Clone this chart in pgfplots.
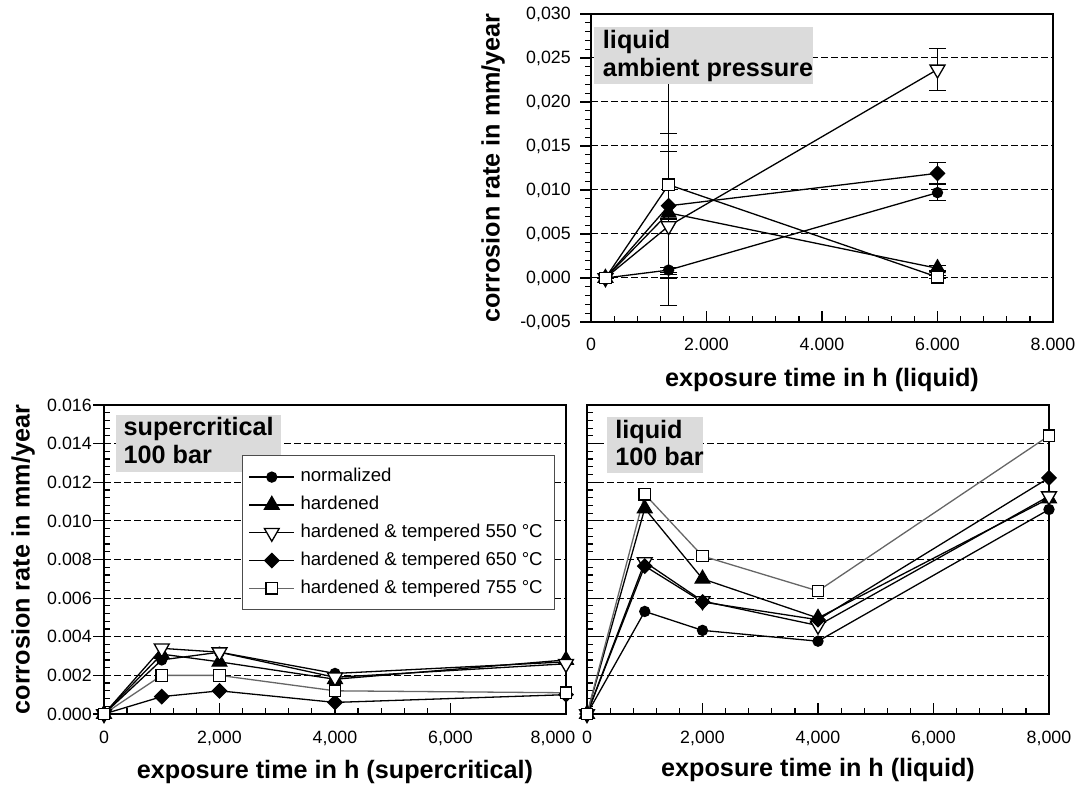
\documentclass[border=0pt]{standalone}
\usepackage{fontspec}
\setmainfont{Liberation Sans}
\usepackage{pgfplots}
\pgfplotsset{compat=1.18}
\newcommand\lbl{\fontsize{12.6bp}{14bp}\selectfont\bfseries}
\begin{document}
\begin{tikzpicture}
\useasboundingbox (0,0) rectangle (539bp,394bp);
\pgfplotsset{
  base/.style={
    scale only axis, width=231bp, height=154bp,
    anchor=south west,
    axis line style={line width=1bp},
    tick align=inside, tick pos=left,
    major tick length=5.3bp, minor tick length=2.8bp,
    every tick/.style={black, line width=0.6bp},
    scaled ticks=false,
    /pgf/number format/assume math mode=true,
    tick label style={font=\fontsize{8.9bp}{10bp}\selectfont},
    ymajorgrids,
    major grid style={black, line width=0.5bp, dash pattern=on 3.5bp off 1.5bp},
    xmin=0, xmax=8000, minor x tick num=4, minor y tick num=4,
    clip=false,
    every axis plot/.append style={line width=0.65bp},
  },
  s1/.style={black, mark=*, mark size=2.5bp, mark options={solid, fill=black}},
  s2/.style={black, mark=triangle*, mark size=4.2bp, mark options={solid, fill=black}},
  s3/.style={black, mark=triangle*, mark size=4.3bp, mark options={solid, fill=white, rotate=180}},
  s4/.style={black, mark=square*, mark size=2.5bp, mark options={solid, fill=black, rotate=45}},
  s5/.style={black!60, mark=square*, mark size=2.9bp, mark options={solid, fill=white, draw=black}},
  eb/.style={error bars/.cd, y dir=both, y explicit,
    error bar style={line width=0.6bp, black, solid},
    error mark options={rotate=90, mark size=4.2bp, line width=0.6bp, black}},
}
% ---------------- top: liquid, ambient pressure
\begin{axis}[base, at={(295.5bp,233bp)},
  ymin=-0.005, ymax=0.030,
  ytick={-0.005,0,0.005,0.01,0.015,0.02,0.025,0.03},
  xtick={0,2000,4000,6000,8000},
  /pgf/number format/use comma, /pgf/number format/1000 sep={.},
  yticklabel style={xshift=-6.6bp, /pgf/number format/fixed, /pgf/number format/fixed zerofill, /pgf/number format/precision=3, /pgf/number format/use comma},
  xticklabel style={yshift=-4.5bp},
  every major y tick/.append style={xshift=-5.3bp},
  every minor y tick/.append style={xshift=-2.8bp},
]
\addplot[s1, eb] table[x=x, y=y, y error=e] {
x y e
250 0 0
1344 0.0009 0.0003
6000 0.0097 0.0009
};
\addplot[s2, eb] table[x=x, y=y, y error=e] {
x y e
250 0 0
1344 0.0074 0.0070
6000 0.0011 0.0003
};
\addplot[s3, eb] table[x=x, y=y, y error=e] {
x y e
250 0 0
1344 0.0059 0.0008
6000 0.0237 0.0024
};
\addplot[s4, eb] table[x=x, y=y, y error=e] {
x y e
250 0 0
1344 0.0082 0.0082
6000 0.0119 0.0012
};
\addplot[s5, color=black, eb] table[x=x, y=y, y error=e] {
x y e
250 0 0
1344 0.0106 0.0137
6000 0.0001 0.0002
};
\end{axis}
% ---------------- bottom left: supercritical
\begin{axis}[base, at={(52bp,37bp)}, height=154.5bp,
  ymin=0, ymax=0.016,
  ytick={0,0.002,0.004,0.006,0.008,0.01,0.012,0.014,0.016},
  xtick={0,2000,4000,6000}, extra x ticks={8000},
  extra x tick style={xticklabel style={xshift=-6.5bp}},
  /pgf/number format/1000 sep={,},
  yticklabel style={xshift=-2.6bp, /pgf/number format/fixed, /pgf/number format/fixed zerofill, /pgf/number format/precision=3},
  xticklabel style={yshift=-5bp},
  every major y tick/.append style={xshift=-5.3bp},
  legend cell align=left,
  legend image code/.code={\draw[mark repeat=2, mark phase=2, #1] plot coordinates {(0bp,0bp) (11.25bp,0bp) (22.5bp,0bp)};},
  legend style={at={(0.2987,0.838)}, anchor=north west,
    draw=black!70, line width=0.65bp, fill=white,
    inner xsep=3bp, inner ysep=3.75bp, row sep=0bp,
    font=\fontsize{9.3bp}{10bp}\selectfont,
    nodes={inner sep=2.8bp, text height=6.5bp, text depth=1.8bp}},
]
\addplot[s1] coordinates {(0,0) (1000,0.0028) (2000,0.0032) (4000,0.0021) (8000,0.0027)};
\addplot[s2] coordinates {(0,0) (1000,0.0031) (2000,0.0027) (4000,0.0018) (8000,0.0028)};
\addplot[s3] coordinates {(0,0) (1000,0.0034) (2000,0.0032) (4000,0.0019) (8000,0.0026)};
\addplot[s4] coordinates {(0,0) (1000,0.0009) (2000,0.0012) (4000,0.0006) (8000,0.0010)};
\addplot[s5] coordinates {(0,0) (1000,0.0020) (2000,0.0020) (4000,0.0012) (8000,0.0011)};
\fill[gray!28] (axis cs:206,0.015482) rectangle (axis cs:3060,0.012541);
\node[anchor=base west, inner sep=0, font=\lbl] at (axis cs:334,0.014395) {supercritical};
\node[anchor=base west, inner sep=0, font=\lbl] at (axis cs:334,0.012945) {100 bar};
\legend{normalized, hardened, hardened \& tempered 550 °C, hardened \& tempered 650 °C, hardened \& tempered 755 °C}
\end{axis}
% ---------------- bottom right: liquid 100 bar
\begin{axis}[base, at={(293.5bp,37bp)}, height=154.5bp,
  ymin=0, ymax=0.016,
  ytick={0,0.002,0.004,0.006,0.008,0.01,0.012,0.014,0.016},
  yticklabels={},
  xtick={0,2000,4000,6000,8000},
  /pgf/number format/1000 sep={,},
  xticklabel style={yshift=-5bp},
]
\addplot[s1] coordinates {(0,0) (1000,0.00531) (2000,0.00433) (4000,0.00377) (8000,0.01059)};
\addplot[s2] coordinates {(0,0) (1000,0.01064) (2000,0.0070) (4000,0.00497) (8000,0.01116)};
\addplot[s3] coordinates {(0,0) (1000,0.00787) (2000,0.00585) (4000,0.00458) (8000,0.01128)};
\addplot[s4] coordinates {(0,0) (1000,0.00766) (2000,0.0058) (4000,0.00488) (8000,0.01223)};
\addplot[s5] coordinates {(0,0) (1000,0.01138) (2000,0.00818) (4000,0.00637) (8000,0.01441)};
\end{axis}
% ---------------- overlay (pixel coordinates of the reference)
\begin{scope}[x=0.5bp, y=-0.5bp, shift={(0bp,394bp)}]
\fill[gray!28] (594.5,26.7) rectangle (813,84);
\node[anchor=base west, inner sep=0, font=\lbl] at (602.6,49) {liquid};
\node[anchor=base west, inner sep=0, font=\lbl] at (602.6,77) {ambient pressure};
\fill[gray!28] (606.7,417.3) rectangle (702.7,473.3);
\node[anchor=base west, inner sep=0, font=\lbl] at (615,438.3) {liquid};
\node[anchor=base west, inner sep=0, font=\lbl] at (615,466) {100 bar};
\node[rotate=90, inner sep=0, font=\lbl] at (493,168) {corrosion rate in mm/year};
\node[inner sep=0, font=\lbl] at (822,380) {exposure time in h (liquid)};
\node[rotate=90, inner sep=0, font=\lbl] at (23,559.5) {corrosion rate in mm/year};
\node[inner sep=0, font=\lbl] at (335,772) {exposure time in h (supercritical)};
\node[inner sep=0, font=\lbl] at (818,770) {exposure time in h (liquid)};
\end{scope}
\end{tikzpicture}
\end{document}
